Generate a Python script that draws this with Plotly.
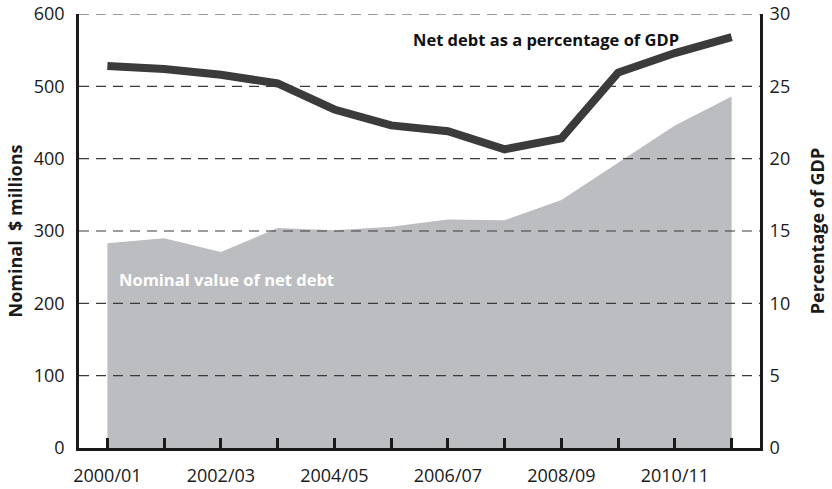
import plotly.graph_objects as go

years = ['2000/01', '2001/02', '2002/03', '2003/04', '2004/05', '2005/06',
         '2006/07', '2007/08', '2008/09', '2009/10', '2010/11', '2011/12']
nominal_debt = [283, 290, 271, 304, 301, 306, 316, 315, 343, 394, 446, 486]
pct_gdp = [26.4, 26.2, 25.8, 25.2, 23.4, 22.3, 21.9, 20.65, 21.4, 25.95, 27.3, 28.4]
year_labels = [y if i % 2 == 0 else '' for i, y in enumerate(years)]
left_ticks = [0, 100, 200, 300, 400, 500, 600]
right_ticks = [0, 5, 10, 15, 20, 25, 30]

FONT = 'Open Sans'
INK = '#1a1a1a'

fig = go.Figure()
fig.add_trace(go.Scatter(
    x=years, y=nominal_debt, mode='lines', fill='tozeroy',
    line=dict(width=0, color='#bcbdc0'), fillcolor='#bcbdc0',
    name='Nominal value of net debt', yaxis='y'))
fig.add_trace(go.Scatter(
    x=years, y=pct_gdp, mode='lines',
    line=dict(width=8, color='#3b3b3b'),
    name='Net debt as a percentage of GDP', yaxis='y2'))

# dashed gridlines sit on top of the grey area in the original
for v in left_ticks[1:]:
    fig.add_shape(type='line', xref='paper', x0=0, x1=1, yref='y', y0=v, y1=v,
                  line=dict(color='#3b3b3b', width=1.2, dash='10px,7px'),
                  layer='above')

fig.add_annotation(text='<b>Net debt as a percentage of GDP</b>', xref='paper', yref='paper',
                   x=0.686, y=0.942, xanchor='center', yanchor='middle', showarrow=False,
                   font=dict(family=FONT, size=16.5, color='#111'))
fig.add_annotation(text='<b>Nominal value of net debt</b>', xref='paper', yref='paper',
                   x=0.2166, y=0.389, xanchor='center', yanchor='middle', showarrow=False,
                   font=dict(family=FONT, size=16.5, color='white'))

fig.update_layout(
    width=832, height=489,
    margin=dict(l=79, r=72, t=14, b=41),
    paper_bgcolor='white', plot_bgcolor='white',
    showlegend=False,
    font=dict(family=FONT, size=18, color=INK),
    xaxis=dict(type='category', range=[-0.5, 11.5], tickvals=years, ticktext=year_labels,
               ticks='inside', ticklen=10, tickwidth=2.5, tickcolor=INK,
               showline=True, linecolor=INK, linewidth=2.5, showgrid=False,
               zeroline=False, automargin=False, ticklabelstandoff=10),
    yaxis=dict(range=[0, 600], tickvals=left_ticks, showgrid=False, zeroline=False,
               showline=True, linecolor=INK, linewidth=2.5, ticks='',
               ticklabelstandoff=8, automargin=False, ticklabeloverflow='allow',
               title=dict(text='<b>Nominal  $ millions</b>', font=dict(size=18), standoff=7)),
    yaxis2=dict(range=[0, 30], tickvals=right_ticks, overlaying='y', side='right',
                showgrid=False, zeroline=False, showline=True, linecolor=INK,
                linewidth=3, ticks='', ticklabelstandoff=3, automargin=False,
                ticklabeloverflow='allow',
                title=dict(text='<b>Percentage of GDP</b>', font=dict(size=18), standoff=23)),
)

# drop the browser's default 8px body margin so the figure fills the window
fig.write_html('out.html', config={'displayModeBar': False},
               post_script="document.body.style.margin='0';")
